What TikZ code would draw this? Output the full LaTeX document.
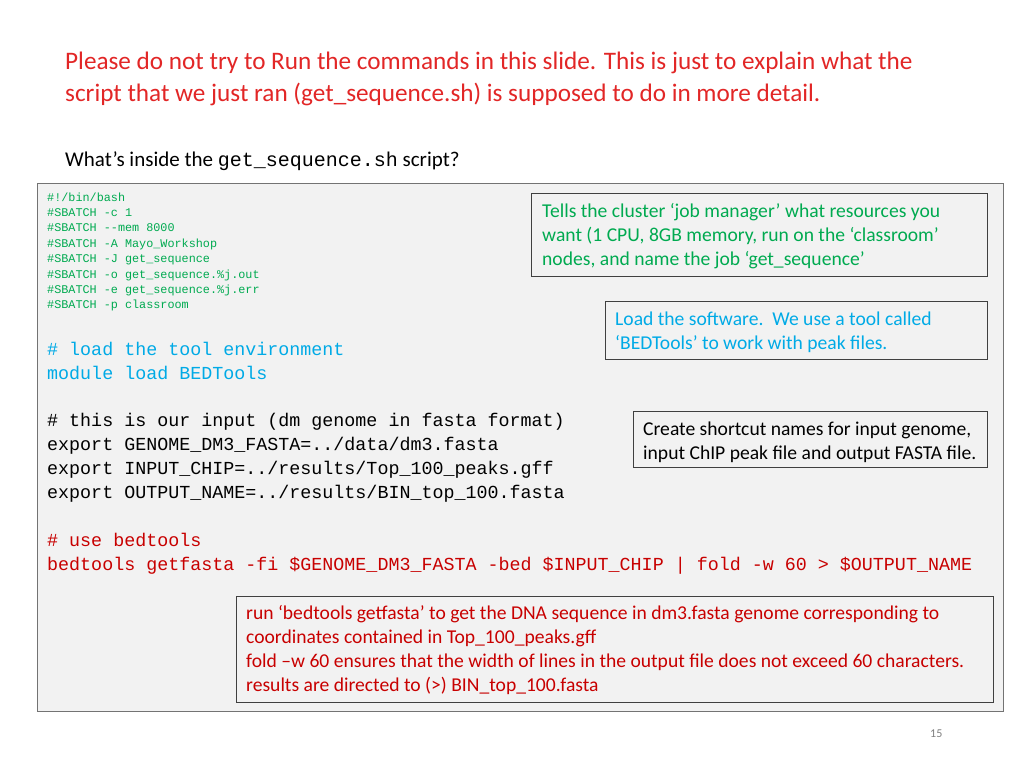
\documentclass[tikz,border=0pt]{standalone}
\usepackage{fontspec}
\setmainfont{Carlito}
\setmonofont{Liberation Mono}
\usetikzlibrary{positioning}
\definecolor{slidered}{RGB}{226,38,38}
\definecolor{codegreen}{RGB}{0,170,80}
\definecolor{codeblue}{RGB}{0,170,230}
\definecolor{codered}{RGB}{200,0,0}
\definecolor{panelgray}{RGB}{242,242,242}
\begin{document}
\begin{tikzpicture}
  [
    x=1pt, y=-1pt,
    txt/.style   = {anchor=base west, inner sep=0pt},
    small/.style = {txt, font=\fontsize{11.8}{15}\ttfamily, text=codegreen},
    big/.style   = {txt, font=\fontsize{18.35}{24}\ttfamily},
    note/.style  = {txt, font=\fontsize{19.6}{24}\selectfont},
    callout/.style = {draw=black!75, line width=0.8pt},
  ]
 \useasboundingbox (0,0) rectangle (1024,768);
 \fill[white] (0,0) rectangle (1024,768);

% title
 \node[txt, font=\fontsize{25.2}{31}\selectfont, text=slidered] (head1) at (65,70)
   {Please do not try to Run the commands in this slide. This is just to explain what the};
 \node[txt, font=\fontsize{25.2}{31}\selectfont, text=slidered] (head2) at (65,101)
   {script that we just ran (get\_sequence.sh) is supposed to do in more detail.};
 \node[txt, font=\fontsize{21}{24}\selectfont] (ask) at (65,166)
   {What’s inside the {\fontsize{20}{24}\ttfamily get\_sequence.sh} script?};

% code panel
 \draw[fill=panelgray, draw=black!55, line width=0.8pt] (37,183) rectangle (1003,711);
 \foreach \line [count=\i from 0] in {%
   {\#!/bin/bash},
   {\#SBATCH -c 1},
   {\#SBATCH --mem 8000},
   {\#SBATCH -A Mayo\_Workshop},
   {\#SBATCH -J get\_sequence},
   {\#SBATCH -o get\_sequence.\%j.out},
   {\#SBATCH -e get\_sequence.\%j.err},
   {\#SBATCH -p classroom}}
   \node[small] (sb\i) at (47,{201+15.4*\i}) {\line};

 \node[big, text=codeblue] (load1) at (47,355) {\# load the tool environment};
 \node[big, text=codeblue] (load2) at (47,379) {module load BEDTools};

 \node[big] (exp1) at (47,426) {\# this is our input (dm genome in fasta format)};
 \node[big] (exp2) at (47,450) {export GENOME\_DM3\_FASTA=../data/dm3.fasta};
 \node[big] (exp3) at (47,474) {export INPUT\_CHIP=../results/Top\_100\_peaks.gff};
 \node[big] (exp4) at (47,498) {export OUTPUT\_NAME=../results/BIN\_top\_100.fasta};

 \node[big, text=codered] (bed1) at (47,546) {\# use bedtools};
 \node[big, text=codered] (bed2) at (47,570)
   {bedtools getfasta -fi \$GENOME\_DM3\_FASTA -bed \$INPUT\_CHIP | fold -w 60 > \$OUTPUT\_NAME};

% callouts
 \draw[callout] (531,193) rectangle (987,276);
 \node[note, text=codegreen] at (542,217) {Tells the cluster ‘job manager’ what resources you};
 \node[note, text=codegreen] at (542,241) {want (1 CPU, 8GB memory, run on the ‘classroom’};
 \node[note, text=codegreen] at (542,265) {nodes, and name the job ‘get\_sequence’};

 \draw[callout] (605,301) rectangle (987,359);
 \node[note, text=codeblue] at (615,325) {Load the software.\ \ We use a tool called};
 \node[note, text=codeblue] at (615,349) {‘BEDTools’ to work with peak files.};

 \draw[callout] (633,411) rectangle (987,467);
 \node[note] at (643,435) {Create shortcut names for input genome,};
 \node[note] at (643,459) {input ChIP peak file and output FASTA file.};

 \draw[callout] (236,596) rectangle (993,702);
 \node[note, text=codered] at (246,619) {run ‘bedtools getfasta’ to get the DNA sequence in dm3.fasta genome corresponding to};
 \node[note, text=codered] at (246,643) {coordinates contained in Top\_100\_peaks.gff};
 \node[note, text=codered] at (246,667) {fold –w 60 ensures that the width of lines in the output file does not exceed 60 characters.};
 \node[note, text=codered] at (246,691) {results are directed to (>) BIN\_top\_100.fasta};

 \node[txt, font=\fontsize{12}{14}\selectfont, text=black!50] (page) at (930,737) {15};
\end{tikzpicture}
\end{document}
